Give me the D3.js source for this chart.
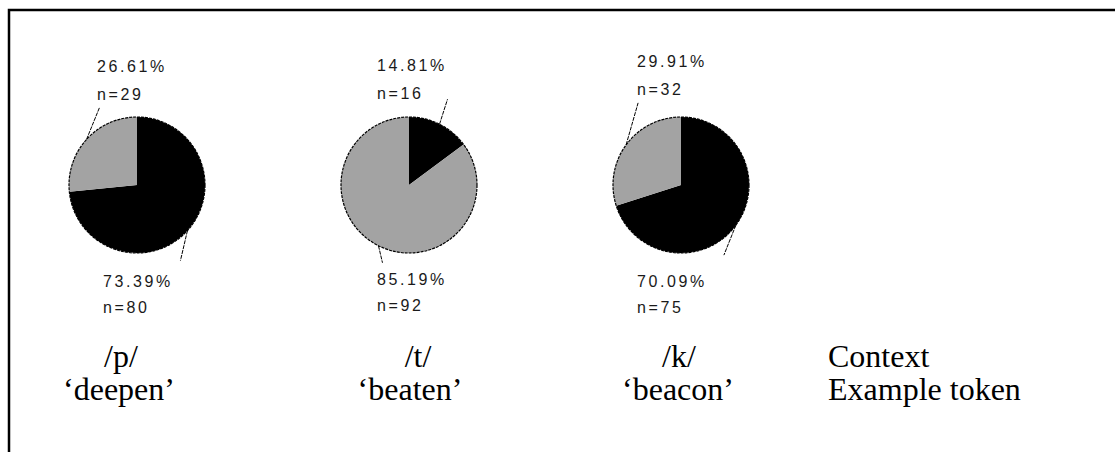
<!DOCTYPE html>
<html>
<head>
<meta charset="utf-8">
<script src="https://cdn.jsdelivr.net/npm/d3@7"></script>
<style>
  body { margin: 0; background: #fff; }
  .pctLabel { font-family: Arial, "Liberation Sans", sans-serif; font-size: 16px; letter-spacing: 2.6px; fill: #1a1a1a; }
  .rowText { font-family: "Liberation Serif", "Times New Roman", serif; font-size: 32px; fill: #000; }
</style>
</head>
<body>
<div id="chart"></div>
<script>
// data
var contexts = ["/p/", "/t/", "/k/"];
var tokens = ["\u2018deepen\u2019", "\u2018beaten\u2019", "\u2018beacon\u2019"];
var blackCounts = [80, 16, 75];
var grayCounts = [29, 92, 32];
var blackPercents = [73.39, 14.81, 70.09];
var grayPercents = [26.61, 85.19, 29.91];
var rowLabels = ["Context", "Example token"];

// svg area
var svgWidth = 1115;
var svgHeight = 452;

var svg = d3.select("#chart")
    .append("svg")
    .attr("width", svgWidth)
    .attr("height", svgHeight);

// frame: only left and top edges show
svg.append("path")
    .attr("d", "M9,452 L9,10 L1115,10")
    .attr("fill", "none")
    .attr("stroke", "#000")
    .attr("stroke-width", 2.5);

// pie positions
var xScale = d3.scalePoint()
    .domain(contexts)
    .range([137, 681]);
var pieY = 185;
var radius = 68;

var colors = { black: "#000", gray: "#a3a3a3" };

var pie = d3.pie()
    .sort(null)
    .value(d => d.n);

var arc = d3.arc()
    .innerRadius(0)
    .outerRadius(radius);

// label offsets relative to each pie centre
var labelLayout = [
    { top: [-40, -113], bottom: [-34, 102], topLead: [13, -32], botLead: [-7, 30] },
    { top: [-32, -114], bottom: [-32, 100], topLead: [8, -25], botLead: [4, 17] },
    { top: [-44, -118], bottom: [-44, 102], topLead: [12, -42], botLead: [-12, 30] }
];

contexts.forEach(function(ctx, i) {
    var cx = xScale(ctx);
    var slices = [
        { key: "black", n: blackCounts[i], pct: blackPercents[i] },
        { key: "gray", n: grayCounts[i], pct: grayPercents[i] }
    ];

    var g = svg.append("g")
        .attr("transform", `translate(${cx}, ${pieY})`);

    var arcs = pie(slices);

    g.selectAll("path.slice")
        .data(arcs)
        .enter()
        .append("path")
        .attr("class", "slice")
        .attr("d", arc)
        .attr("fill", d => colors[d.data.key]);

    // outline
    g.append("circle")
        .attr("r", radius)
        .attr("fill", "none")
        .attr("stroke", "#000")
        .attr("stroke-width", 1.2)
        .attr("stroke-dasharray", "3,1");

    var lay = labelLayout[i];

    arcs.forEach(function(a) {
        var mid = (a.startAngle + a.endAngle) / 2;
        var sx = radius * Math.sin(mid);
        var sy = -radius * Math.cos(mid);
        var isTop = sy < 0;
        var lead = isTop ? lay.topLead : lay.botLead;
        var pos = isTop ? lay.top : lay.bottom;
        var gap = isTop ? 28 : 26;

        // leader line
        g.append("line")
            .attr("x1", sx)
            .attr("y1", sy)
            .attr("x2", sx + lead[0])
            .attr("y2", sy + lead[1])
            .attr("stroke", "#000")
            .attr("stroke-width", 1)
            .attr("stroke-dasharray", "4,1");

        g.append("text")
            .attr("class", "pctLabel")
            .attr("x", pos[0])
            .attr("y", pos[1])
            .text(d3.format(".2f")(a.data.pct) + "%");

        g.append("text")
            .attr("class", "pctLabel")
            .attr("x", pos[0])
            .attr("y", pos[1] + gap)
            .text("n=" + a.data.n);
    });
});

// context / example token rows
var textShift = [[-16, -18], [9, 1], [-2, -3]];

contexts.forEach(function(ctx, i) {
    var cx = xScale(ctx);
    svg.append("text")
        .attr("class", "rowText")
        .attr("x", cx + textShift[i][0])
        .attr("y", 367)
        .attr("text-anchor", "middle")
        .text(ctx);
    svg.append("text")
        .attr("class", "rowText")
        .attr("x", cx + textShift[i][1])
        .attr("y", 400)
        .attr("text-anchor", "middle")
        .text(tokens[i]);
});

svg.selectAll("text.rowHead")
    .data(rowLabels)
    .enter()
    .append("text")
    .attr("class", "rowText rowHead")
    .attr("x", 828)
    .attr("y", (d, i) => 367 + i * 33)
    .text(d => d);
</script>
</body>
</html>
